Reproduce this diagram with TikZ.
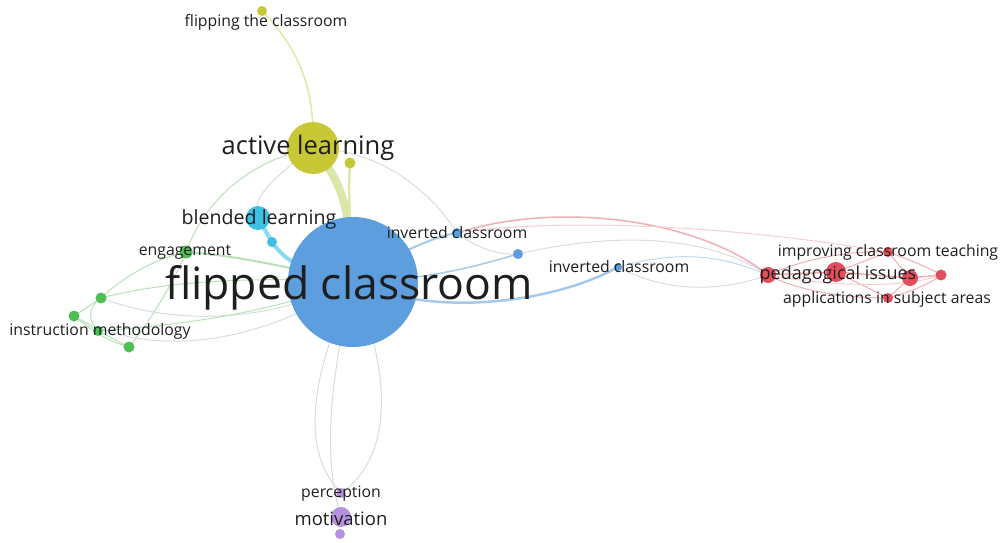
\documentclass[tikz,border=0pt]{standalone}
\usepackage{fontspec}
\setmainfont{Open Sans}
\usetikzlibrary{backgrounds}
\definecolor{cblue}{RGB}{92,158,222}
\definecolor{cyel}{RGB}{200,200,55}
\definecolor{ccyan}{RGB}{60,192,228}
\definecolor{cgreen}{RGB}{80,190,85}
\definecolor{cred}{RGB}{228,78,92}
\definecolor{cpurp}{RGB}{182,145,222}
\definecolor{ctext}{RGB}{30,30,30}
\definecolor{eblue}{RGB}{165,200,235}
\definecolor{ered}{RGB}{240,175,180}
\definecolor{egreen}{RGB}{185,225,185}
\definecolor{eyel}{RGB}{225,232,165}
\definecolor{egray}{RGB}{215,220,225}
\definecolor{ecyan}{RGB}{140,218,238}
\tikzset{
  dot/.style={circle,inner sep=0pt,draw=none},
  lbl/.style={text=ctext,inner sep=0pt,font=\fontsize{#1}{#1}\selectfont},
  edge/.style={line cap=round}
}
\begin{document}
\begin{tikzpicture}[x=1pt,y=-1pt]
\useasboundingbox (0,0) rectangle (1002,543);
% nodes
\node[dot,fill=cblue,minimum size=130pt] (fc) at (353,282) {};
\node[dot,fill=cyel,minimum size=52pt] (al) at (313,148) {};
\node[dot,fill=cyel,minimum size=11pt] (al2) at (350,163) {};
\node[dot,fill=cyel,minimum size=10pt] (ftc) at (262,11) {};
\node[dot,fill=ccyan,minimum size=24pt] (bl) at (258,218) {};
\node[dot,fill=ccyan,minimum size=10pt] (bl2) at (272,242) {};
\node[dot,fill=cgreen,minimum size=13pt] (eng) at (186,252) {};
\node[dot,fill=cgreen,minimum size=11pt] (g1) at (101,298) {};
\node[dot,fill=cgreen,minimum size=11pt] (g2) at (74,316) {};
\node[dot,fill=cgreen,minimum size=10pt] (im) at (98,331) {};
\node[dot,fill=cgreen,minimum size=11pt] (g4) at (129,347) {};
\node[dot,fill=cblue,minimum size=10pt] (ic1) at (457,233) {};
\node[dot,fill=cblue,minimum size=10pt] (b2) at (518,254) {};
\node[dot,fill=cblue,minimum size=8pt] (ic2) at (618,267) {};
\node[dot,fill=cred,minimum size=16pt] (pi) at (768,275) {};
\node[dot,fill=cred,minimum size=20pt] (r2) at (836,272) {};
\node[dot,fill=cred,minimum size=16pt] (r3) at (910,278) {};
\node[dot,fill=cred,minimum size=10pt] (ict) at (888,252) {};
\node[dot,fill=cred,minimum size=11pt] (r5) at (941,275) {};
\node[dot,fill=cred,minimum size=10pt] (asa) at (888,298) {};
\node[dot,fill=cpurp,minimum size=10pt] (per) at (341,493) {};
\node[dot,fill=cpurp,minimum size=20pt] (mot) at (341,517) {};
\node[dot,fill=cpurp,minimum size=10pt] (p3) at (340,534) {};
% labels
\node[lbl=44.5] (tfc) at (349,288) {flipped classroom};
\node[lbl=25.5] (tal) at (308,148) {active learning};
\node[lbl=15.8] (tftc) at (266,22) {flipping the classroom};
\node[lbl=19.6] (tbl) at (259,219) {blended learning};
\node[lbl=15.8] (teng) at (185,252) {engagement};
\node[lbl=15.8] (tim) at (100,331) {instruction methodology};
\node[lbl=15.8] (tic1) at (457,233) {inverted classroom};
\node[lbl=15.8] (tic2) at (619,267) {inverted classroom};
\node[lbl=18] (tpi) at (838,275) {pedagogical issues};
\node[lbl=15.8] (tict) at (888,252) {improving classroom teaching};
\node[lbl=15.8] (tasa) at (887,299) {applications in subject areas};
\node[lbl=15.8] (tper) at (341,494) {perception};
\node[lbl=18.5] (tmot) at (341,519) {motivation};
\begin{pgfonlayer}{background}
% yellow
\draw[edge,eyel,line width=1.5pt] (ftc.center) .. controls (300,50) and (315,90) .. (al.center);
\draw[edge,eyel!80!egreen,line width=8pt] (al.center) .. controls (340,180) and (350,200) .. (fc.center);
\draw[edge,eyel,line width=2.5pt] (al2.center) .. controls (348,190) and (350,220) .. (fc.center);
\draw[edge,egray,line width=1pt] (al.center) .. controls (380,150) and (430,190) .. (ic1.center);
\draw[edge,egreen,line width=1pt] (al.center) .. controls (250,160) and (205,200) .. (eng.center);
\draw[edge,egray,line width=1pt] (al.center) .. controls (270,180) and (250,200) .. (bl.center);
% cyan
\draw[edge,ecyan,line width=4pt] (bl.center) -- (bl2.center) .. controls (285,262) and (310,275) .. (fc.center);
% green
\draw[edge,egreen,line width=2pt] (eng.center) .. controls (230,255) and (280,265) .. (fc.center);
\draw[edge,egreen,line width=1pt] (eng.center) .. controls (150,260) and (120,280) .. (g1.center);
\draw[edge,egreen,line width=1pt] (eng.center) .. controls (170,290) and (150,320) .. (g4.center);
\draw[edge,egreen,line width=1pt] (g1.center) -- (g2.center) -- (im.center) -- (g4.center);
\draw[edge,egreen,line width=1pt] (g1.center) .. controls (85,310) and (90,322) .. (im.center);
\draw[edge,egreen,line width=1pt] (g2.center) .. controls (90,330) and (110,342) .. (g4.center);
\draw[edge,egreen,line width=1pt] (g1.center) .. controls (150,285) and (230,275) .. (fc.center);
\draw[edge,egray,line width=1pt] (g1.center) .. controls (160,320) and (250,330) .. (fc.center);
\draw[edge,egreen,line width=1pt] (im.center) .. controls (180,325) and (260,315) .. (fc.center);
\draw[edge,egray,line width=1pt] (g2.center) .. controls (150,360) and (260,345) .. (fc.center);
% blue
\draw[edge,eblue,line width=2pt] (fc.center) .. controls (400,250) and (440,235) .. (ic1.center);
\draw[edge,eblue,line width=1.5pt] (fc.center) .. controls (430,280) and (480,265) .. (b2.center);
\draw[edge,egray,line width=1pt] (ic1.center) .. controls (480,250) and (500,255) .. (b2.center);
\draw[edge,eblue,line width=2.5pt] (fc.center) .. controls (440,320) and (560,300) .. (ic2.center);
\draw[edge,egray,line width=1pt] (b2.center) .. controls (600,235) and (700,230) .. (pi.center);
\draw[edge,eblue!70!white,line width=1pt] (ic2.center) .. controls (680,250) and (720,255) .. (pi.center);
\draw[edge,egray,line width=1pt] (ic2.center) .. controls (680,300) and (740,285) .. (pi.center);
% red
\draw[edge,ered,line width=1.5pt] (ic1.center) .. controls (560,200) and (700,220) .. (pi.center);
\draw[edge,ered!60!white,line width=1pt] (ic1.center) .. controls (580,215) and (760,230) .. (ict.center);
\draw[edge,ered,line width=1.5pt] (pi.center) -- (r2.center) -- (r3.center) -- (r5.center);
\draw[edge,ered,line width=1pt] (pi.center) .. controls (800,260) and (850,250) .. (ict.center);
\draw[edge,ered,line width=1pt] (pi.center) .. controls (800,292) and (850,298) .. (asa.center);
\draw[edge,ered,line width=1pt] (ict.center) -- (r3.center) -- (asa.center);
\draw[edge,ered,line width=1pt] (ict.center) .. controls (910,260) and (930,268) .. (r5.center);
\draw[edge,ered,line width=1pt] (asa.center) .. controls (910,292) and (930,284) .. (r5.center);
\draw[edge,ered,line width=1pt] (r2.center) -- (ict.center);
\draw[edge,ered,line width=1pt] (r2.center) -- (asa.center);
\draw[edge,ered!60!white,line width=1pt] (pi.center) .. controls (820,285) and (900,290) .. (r5.center);
% purple/gray
\draw[edge,egray,line width=1pt] (fc.center) .. controls (310,380) and (300,450) .. (per.center);
\draw[edge,egray,line width=1pt] (fc.center) .. controls (395,380) and (390,460) .. (per.center);
\draw[edge,egray,line width=1pt] (fc.center) .. controls (320,420) and (330,480) .. (mot.center);
\end{pgfonlayer}
\end{tikzpicture}
\end{document}
